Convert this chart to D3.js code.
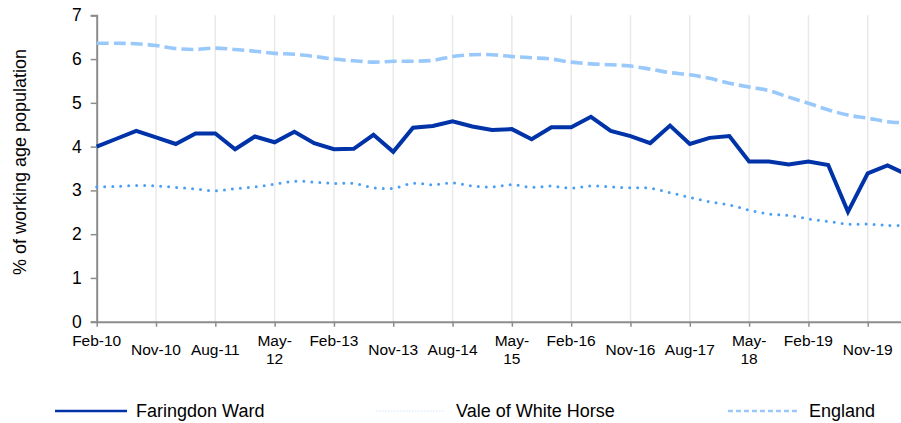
<!DOCTYPE html>
<html>
<head>
<meta charset="utf-8">
<script src="https://cdn.jsdelivr.net/npm/d3@7"></script>
<style>
  html, body { margin: 0; padding: 0; background: #fff; }
  svg { display: block; font-family: "Liberation Sans", Arial, sans-serif; }
</style>
</head>
<body>
<svg id="chart" width="901" height="423"></svg>
<script>
const categories = ["Feb-10","May-10","Aug-10","Nov-10","Feb-11","May-11","Aug-11","Nov-11",
  "Feb-12","May-12","Aug-12","Nov-12","Feb-13","May-13","Aug-13","Nov-13",
  "Feb-14","May-14","Aug-14","Nov-14","Feb-15","May-15","Aug-15","Nov-15",
  "Feb-16","May-16","Aug-16","Nov-16","Feb-17","May-17","Aug-17","Nov-17",
  "Feb-18","May-18","Aug-18","Nov-18","Feb-19","May-19","Aug-19","Nov-19",
  "Feb-20","May-20"];

const faringdon = [4.00,4.18,4.36,4.21,4.06,4.30,4.30,3.94,4.23,4.10,4.34,4.08,
  3.94,3.95,4.27,3.88,4.43,4.47,4.58,4.46,4.38,4.40,4.17,4.44,
  4.44,4.68,4.36,4.24,4.08,4.48,4.06,4.20,4.24,3.66,3.66,3.59,
  3.66,3.58,2.51,3.39,3.57,3.36];

const vale = [3.08,3.09,3.11,3.10,3.07,3.03,2.99,3.04,3.08,3.14,3.21,3.19,
  3.16,3.16,3.06,3.05,3.16,3.13,3.17,3.10,3.08,3.13,3.07,3.10,
  3.05,3.10,3.08,3.06,3.05,2.95,2.84,2.74,2.67,2.55,2.46,2.43,
  2.35,2.29,2.23,2.23,2.20,2.20];

const england = [6.36,6.36,6.35,6.31,6.24,6.22,6.25,6.22,6.18,6.13,6.11,6.06,
  6.00,5.96,5.93,5.95,5.95,5.97,6.06,6.10,6.10,6.06,6.03,6.00,
  5.93,5.89,5.87,5.84,5.77,5.69,5.64,5.56,5.45,5.36,5.28,5.13,
  4.99,4.84,4.72,4.65,4.57,4.54];

const tickLabels = ["Feb-10","Nov-10","Aug-11","May-12","Feb-13","Nov-13","Aug-14",
  "May-15","Feb-16","Nov-16","Aug-17","May-18","Feb-19","Nov-19"];

const yTicks = [0,1,2,3,4,5,6,7];
const seriesNames = ["Faringdon Ward","Vale of White Horse","England"];
const yTitle = "% of working age population";

(function () {
const svg = d3.select("#chart");
const plotLeft = 96.7, plotTop = 15.3, plotBottom = 321.7, step = 19.77;

const x = d3.scalePoint()
  .domain(categories)
  .range([plotLeft, plotLeft + step * (categories.length - 1)]);
const y = d3.scaleLinear().domain([0, 7]).range([plotBottom, plotTop]);

const axisColor = "#8c8c8c";

// vertical gridlines at labelled categories
svg.append("g").selectAll("line")
  .data(tickLabels.slice(1))
  .join("line")
  .attr("x1", d => x(d)).attr("x2", d => x(d))
  .attr("y1", y(7)).attr("y2", y(0))
  .attr("stroke", "#e9e9e9").attr("stroke-width", 1.5);

// y axis
const yAxis = d3.axisLeft(y).tickValues(yTicks).tickSize(6).tickPadding(9)
  .tickFormat(d3.format("d"));
const gy = svg.append("g").attr("transform", `translate(${plotLeft},0)`).call(yAxis);
gy.select(".domain").attr("stroke", axisColor).attr("stroke-width", 2);
gy.selectAll(".tick line").attr("stroke", axisColor).attr("stroke-width", 1.5);
gy.selectAll(".tick text").attr("fill", "#000").style("font-size", "17.5px")
  .style("font-family", "Liberation Sans, Arial, sans-serif");

// x axis
const xAxis = d3.axisBottom(x).tickValues(tickLabels).tickSize(5).tickFormat("");
const gx = svg.append("g").attr("transform", `translate(0,${plotBottom})`).call(xAxis);
gx.select(".domain").attr("stroke", axisColor).attr("stroke-width", 2)
  .attr("d", `M${plotLeft},0.5H901`);
gx.selectAll(".tick line").attr("stroke", axisColor).attr("stroke-width", 1.5);

// x labels (Excel-style stacked layout)
const xl = svg.append("g").style("font-size", "15.5px").attr("fill", "#000");
tickLabels.forEach(lbl => {
  const cx = x(lbl);
  const t = xl.append("text").attr("text-anchor", "middle");
  if (lbl.startsWith("May")) {
    const parts = lbl.split("-");
    t.append("tspan").attr("x", cx).attr("y", 346).text(parts[0] + "-");
    t.append("tspan").attr("x", cx).attr("y", 364).text(parts[1]);
  } else if (lbl.startsWith("Feb")) {
    t.attr("x", cx).attr("y", 346).text(lbl);
  } else {
    t.attr("x", cx).attr("y", 355).text(lbl);
  }
});

// y title
svg.append("text")
  .attr("transform", `translate(26,162) rotate(-90)`)
  .attr("text-anchor", "middle")
  .style("font-size", "18px")
  .attr("fill", "#000")
  .text(yTitle);

const lineStraight = d3.line().x((d, i) => x(categories[i])).y(d => y(d));
const lineSmooth = d3.line().x((d, i) => x(categories[i])).y(d => y(d))
  .curve(d3.curveCatmullRom.alpha(0.5));

svg.append("path").datum(england)
  .attr("d", lineSmooth).attr("fill", "none")
  .attr("stroke", "#99c9fb").attr("stroke-width", 3.6)
  .attr("stroke-dasharray", "12 5");

svg.append("path").datum(vale)
  .attr("d", lineSmooth).attr("fill", "none")
  .attr("stroke", "#4a9ff5").attr("stroke-width", 3)
  .attr("stroke-linecap", "round")
  .attr("stroke-dasharray", "0 8");

svg.append("path").datum(faringdon)
  .attr("d", lineStraight).attr("fill", "none")
  .attr("stroke", "#0033a8").attr("stroke-width", 4)
  .attr("stroke-linejoin", "miter");

// legend
const legendY = 411;
const legendItems = [
  { name: seriesNames[0], x1: 55, x2: 127, tx: 136, stroke: "#0033a8", w: 2.5, dash: null },
  { name: seriesNames[1], x1: 376, x2: 445, tx: 456, stroke: "#cfe6fd", w: 1.2, dash: "1.5 1.5" },
  { name: seriesNames[2], x1: 728, x2: 797, tx: 809, stroke: "#99c9fb", w: 2.5, dash: "5 3" }
];
const lg = svg.append("g");
legendItems.forEach(it => {
  lg.append("line").attr("x1", it.x1).attr("x2", it.x2)
    .attr("y1", legendY).attr("y2", legendY)
    .attr("stroke", it.stroke).attr("stroke-width", it.w)
    .attr("stroke-dasharray", it.dash);
  lg.append("text").attr("x", it.tx).attr("y", legendY + 6)
    .style("font-size", "18px").attr("fill", "#000").text(it.name);
});
})();
</script>
</body>
</html>
